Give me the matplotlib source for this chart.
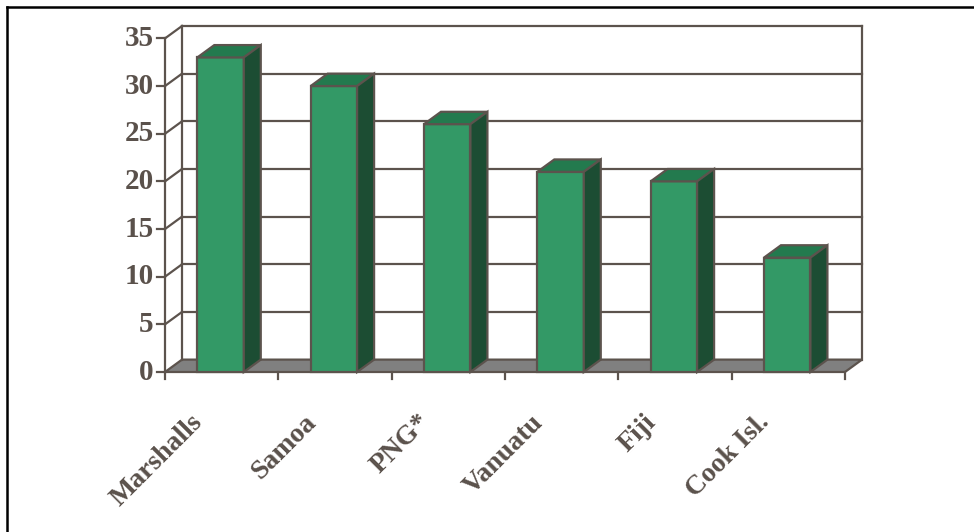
import matplotlib.pyplot as plt
from matplotlib.patches import Polygon, Rectangle
from matplotlib.lines import Line2D

# data
countries = ["Marshalls", "Samoa", "PNG*", "Vanuatu", "Fiji", "Cook Isl."]
values = [33, 30, 26, 21, 20, 12]
yticks = [0, 5, 10, 15, 20, 25, 30, 35]

FRONT = "#339966"
SIDE = "#1c4d33"
TOP = "#237a4e"
EDGE = "#5c534d"
FLOOR = "#808080"
TEXT = "#5a514b"

DX, DY = 0.15, 1.3   # depth offset (category units, value units)
BAR_W = 0.41

plt.rcParams["font.family"] = ["Liberation Serif", "DejaVu Serif"]

fig = plt.figure(figsize=(9.74, 5.32), dpi=100)
ax = fig.add_axes([165 / 974, 160 / 532, 697 / 974, 346 / 532])
n = len(countries)
ax.set_xlim(0, n + DX)
ax.set_ylim(0, yticks[-1] + DY)
ax.axis("off")

lw = 1.6
# floor
ax.add_patch(Polygon([(0, 0), (n, 0), (n + DX, DY), (DX, DY)], closed=True,
                     facecolor=FLOOR, edgecolor=EDGE, lw=lw, zorder=1, clip_on=False))
# back wall grid + left wall diagonals
for v in yticks[1:]:
    ax.plot([DX, n + DX], [v + DY, v + DY], color=EDGE, lw=lw, zorder=1, clip_on=False)
    ax.plot([0, DX], [v, v + DY], color=EDGE, lw=lw, zorder=1, clip_on=False)
ax.plot([0, 0], [0, yticks[-1]], color=EDGE, lw=lw, zorder=2, clip_on=False)
ax.plot([DX, DX], [DY, yticks[-1] + DY], color=EDGE, lw=lw, zorder=1, clip_on=False)
ax.plot([n + DX, n + DX], [DY, yticks[-1] + DY], color=EDGE, lw=lw, zorder=1, clip_on=False)

# y ticks and labels
for v in yticks:
    ax.plot([-0.07, 0], [v, v], color=EDGE, lw=lw, zorder=2, clip_on=False)
    ax.text(-0.1, v, str(v), ha="right", va="center", fontsize=21,
            fontweight="bold", color=TEXT)

# x ticks
for i in range(n + 1):
    ax.plot([i, i], [0, -0.75], color=EDGE, lw=lw, zorder=2, clip_on=False)

# bars
for i, (name, v) in enumerate(zip(countries, values)):
    x0 = i + 0.5 - BAR_W / 2 - 0.01
    x1 = x0 + BAR_W
    ax.add_patch(Rectangle((x0, 0), BAR_W, v, facecolor=FRONT, edgecolor=EDGE,
                           lw=lw, zorder=3, clip_on=False))
    ax.add_patch(Polygon([(x0, v), (x1, v), (x1 + DX, v + DY), (x0 + DX, v + DY)],
                         closed=True, facecolor=TOP, edgecolor=EDGE, lw=lw,
                         zorder=3, clip_on=False))
    ax.add_patch(Polygon([(x1, 0), (x1 + DX, DY), (x1 + DX, v + DY), (x1, v)],
                         closed=True, facecolor=SIDE, edgecolor=EDGE, lw=lw,
                         zorder=3, clip_on=False))
    ax.text(i + 0.5 - 0.2, -4.9, name, rotation=45, rotation_mode="anchor",
            ha="right", va="center", fontsize=20, fontweight="bold", color=TEXT)

# outer frame (top and left edges)
fig.add_artist(Line2D([7 / 974, 1], [1 - 7 / 532, 1 - 7 / 532], color="black", lw=1.8))
fig.add_artist(Line2D([7 / 974, 7 / 974], [0, 1 - 7 / 532], color="black", lw=1.8))

fig.savefig("out.png", dpi=100, facecolor="white")
